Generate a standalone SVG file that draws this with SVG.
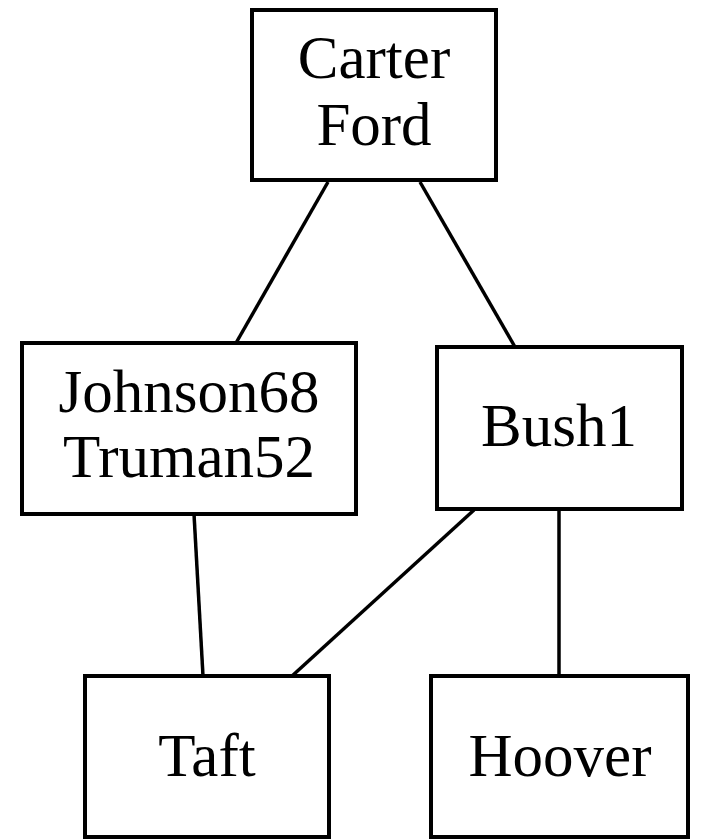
<svg xmlns="http://www.w3.org/2000/svg" width="702" height="840" viewBox="0 0 702 840">
<style>
.box{fill:#fff;stroke:#000;stroke-width:4}
.lbl{font-family:"Liberation Serif","Times New Roman",serif;font-size:61px;fill:#000;text-anchor:middle}
.edge{stroke:#000;stroke-width:3.5;fill:none}
</style>
<rect width="702" height="840" fill="#fff"/>
<g id="edges">
<line class="edge" x1="328" y1="182" x2="236" y2="343"/>
<line class="edge" x1="420" y1="182" x2="515" y2="347"/>
<line class="edge" x1="194" y1="514" x2="203" y2="676"/>
<line class="edge" x1="474" y1="510" x2="292" y2="676"/>
<line class="edge" x1="559" y1="510" x2="559" y2="676"/>
</g>
<g id="carter_ford">
<rect class="box" x="252" y="10" width="244" height="170"/>
<text class="lbl" x="374" y="78">Carter</text>
<text class="lbl" x="374" y="145">Ford</text>
</g>
<g id="johnson_truman">
<rect class="box" x="22" y="343" width="334" height="171"/>
<text class="lbl" x="189" y="412">Johnson68</text>
<text class="lbl" x="189" y="477">Truman52</text>
</g>
<g id="bush1">
<rect class="box" x="437" y="347" width="245" height="162"/>
<text class="lbl" x="559" y="446">Bush1</text>
</g>
<g id="taft">
<rect class="box" x="85" y="676" width="244" height="161"/>
<text class="lbl" x="207" y="776">Taft</text>
</g>
<g id="hoover">
<rect class="box" x="431" y="676" width="257" height="161"/>
<text class="lbl" x="560" y="776">Hoover</text>
</g>
</svg>
